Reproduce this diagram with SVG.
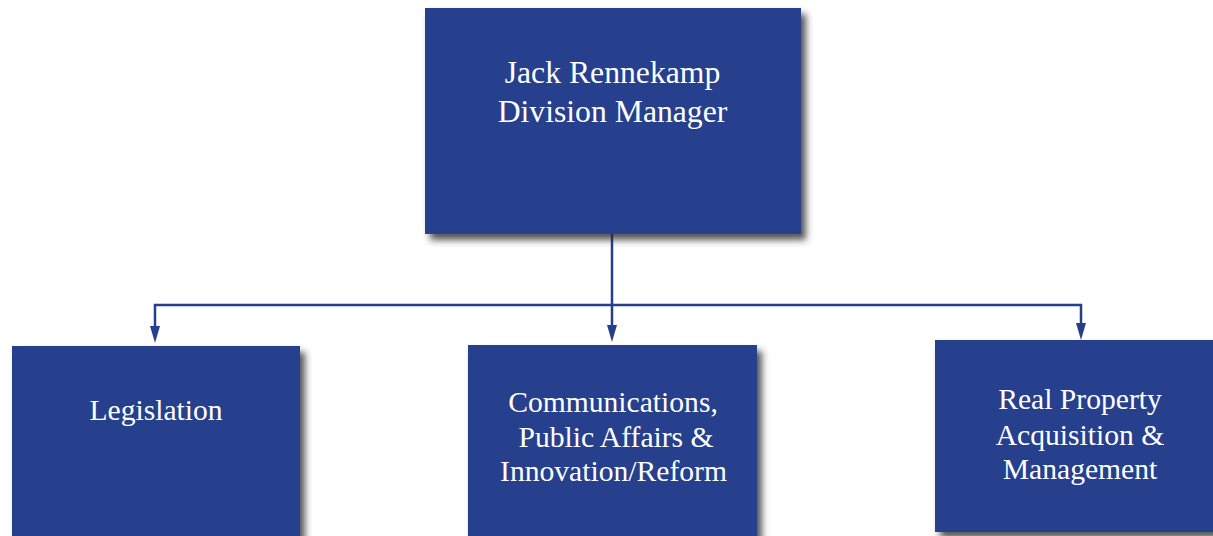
<svg xmlns="http://www.w3.org/2000/svg" width="1213" height="536" viewBox="0 0 1213 536">
<style>
.box{fill:#263F8D;filter:url(#sh);}
.t{fill:#ffffff;font-family:"Liberation Serif","Times New Roman",serif;text-anchor:middle;}
.t1{font-size:31.7px;}
.t2{font-size:29.6px;}
.ln{stroke:#263F8D;stroke-width:2.5;fill:none;}
.ah{fill:#263F8D;}
</style>
<defs>
<filter id="sh" x="-10%" y="-10%" width="130%" height="130%">
<feDropShadow dx="5" dy="6" stdDeviation="3.5" flood-color="#2a2a2a" flood-opacity="0.8"/>
</filter>
</defs>
<rect width="1213" height="536" fill="#ffffff"/>
<g id="connectors">
<path class="ln" d="M612,234 V305 M155,327 V305 H1081 V325 M612,305 V326"/>
<polygon class="ah" points="150,326 160,326 155,343"/>
<polygon class="ah" points="607,325 617,325 612,342"/>
<polygon class="ah" points="1076,323 1086,323 1081,340"/>
</g>
<g id="manager">
<rect class="box" x="425" y="8" width="376" height="226"/>
<text class="t t1" x="612.5" y="83">Jack Rennekamp</text>
<text class="t t1" x="612.5" y="122">Division Manager</text>
</g>
<g id="legislation">
<rect class="box" x="12" y="346" width="288" height="200"/>
<text class="t t2" x="156" y="420">Legislation</text>
</g>
<g id="communications">
<rect class="box" x="468" y="345" width="289" height="200"/>
<text class="t t2" x="613" y="412">Communications,</text>
<text class="t t2" x="616" y="447"> Public Affairs &amp;</text>
<text class="t t2" x="613.5" y="481">Innovation/Reform</text>
</g>
<g id="realproperty">
<rect class="box" x="935" y="340" width="290" height="192"/>
<text class="t t2" x="1080" y="409">Real Property</text>
<text class="t t2" x="1080" y="445">Acquisition &amp;</text>
<text class="t t2" x="1080" y="479">Management</text>
</g>
</svg>
